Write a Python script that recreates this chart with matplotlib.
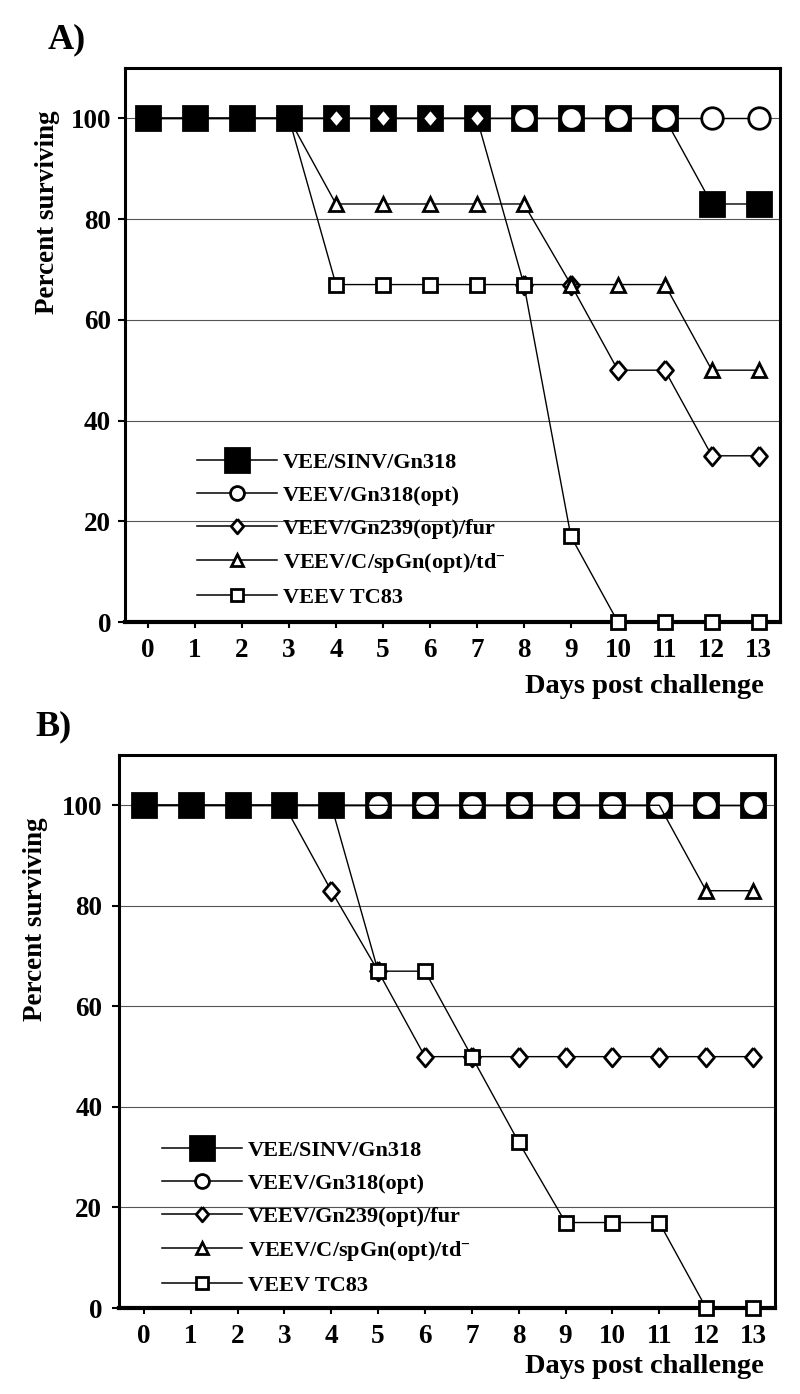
import matplotlib
matplotlib.use("Agg")
from matplotlib import pyplot as plt
from matplotlib.lines import Line2D

plt.rcParams["font.family"] = ["Liberation Serif", "DejaVu Serif"]
plt.rcParams["font.weight"] = "bold"
plt.rcParams["mathtext.fontset"] = "custom"
plt.rcParams["mathtext.rm"] = "Liberation Serif:bold"
plt.rcParams["mathtext.it"] = "Liberation Serif:bold"
plt.rcParams["mathtext.bf"] = "Liberation Serif:bold"

days = [0, 1, 2, 3, 4, 5, 6, 7, 8, 9, 10, 11, 12, 13]
day_ticks = [0, 1, 2, 3, 4, 5, 6, 7, 8, 9, 10, 11, 12, 13]
pct_ticks = [0, 20, 40, 60, 80, 100]

series_names = [
    "VEE/SINV/Gn318",
    "VEEV/Gn318(opt)",
    "VEEV/Gn239(opt)/fur",
    r"VEEV/C/spGn(opt)/td$^{-}$",
    "VEEV TC83",
]

# panel A
a_sinv_gn318 = [100, 100, 100, 100, 100, 100, 100, 100, 100, 100, 100, 100, 83, 83]
a_gn318_opt = [100, 100, 100, 100, 100, 100, 100, 100, 100, 100, 100, 100, 100, 100]
a_gn239_fur = [100, 100, 100, 100, 100, 100, 100, 100, 67, 67, 50, 50, 33, 33]
a_spgn_td = [100, 100, 100, 100, 83, 83, 83, 83, 83, 67, 67, 67, 50, 50]
a_tc83 = [100, 100, 100, 100, 67, 67, 67, 67, 67, 17, 0, 0, 0, 0]

# panel B
b_sinv_gn318 = [100, 100, 100, 100, 100, 100, 100, 100, 100, 100, 100, 100, 100, 100]
b_gn318_opt = [100, 100, 100, 100, 100, 100, 100, 100, 100, 100, 100, 100, 100, 100]
b_gn239_fur = [100, 100, 100, 100, 83, 67, 50, 50, 50, 50, 50, 50, 50, 50]
b_spgn_td = [100, 100, 100, 100, 100, 100, 100, 100, 100, 100, 100, 100, 83, 83]
b_tc83 = [100, 100, 100, 100, 100, 67, 67, 50, 33, 17, 17, 17, 0, 0]

W, H = 800, 1394
DIAMOND = [(0, 1), (0.85, 0), (0, -1), (-0.85, 0), (0, 1)]

# marker, plot size, legend size, face colour
styles = [
    ("s", 17.3, 17.3, "black"),
    ("o", 15.5, 10.0, "white"),
    (DIAMOND, 13.5, 10.5, "white"),
    ("^", 9.5, 8.0, "white"),
    ("s", 9.6, 9.0, "white"),
]


def fy(y_px):
    return 1 - y_px / H


def draw_panel(fig, rect, series, marker_from, xlim, label_xy, legend_xy,
               tick_pad):
    ax = fig.add_axes(rect)
    for values, style, first in zip(series, styles, marker_from):
        marker, size, _, face = style
        ax.plot(days, values, color="black", lw=1.0, marker=marker,
                markersize=size, markerfacecolor=face, markeredgecolor="black",
                markeredgewidth=2.0, markevery=slice(first, None),
                clip_on=False, zorder=4)

    ax.set_xlim(*xlim)
    ax.set_ylim(0, 110)
    ax.set_xticks(day_ticks)
    ax.set_yticks(pct_ticks)
    ax.tick_params(axis="x", direction="out", length=4.5, width=1.5, pad=7,
                   labelsize=19.5)
    ax.tick_params(axis="y", direction="out", length=5, width=1.5,
                   pad=tick_pad, labelsize=19.5)
    ax.yaxis.grid(True, color="#555555", lw=0.8)
    ax.set_axisbelow(True)
    for side in ["left", "right", "top"]:
        ax.spines[side].set_linewidth(2.2)
    ax.spines["bottom"].set_linewidth(3.0)

    ax.set_ylabel("Percent surviving", fontsize=19.5, fontweight="bold",
                  va="center")
    ax.yaxis.set_label_coords(*label_xy)

    handles = []
    for style in styles:
        marker, _, size, face = style
        handles.append(Line2D([], [], color="black", lw=1.1, marker=marker,
                              markersize=size, markerfacecolor=face,
                              markeredgecolor="black", markeredgewidth=2.0))
    ax.legend(handles, series_names, loc="center left",
              bbox_to_anchor=(legend_xy[0] / W, fy(legend_xy[1])),
              bbox_transform=fig.transFigure, frameon=False, borderpad=0,
              borderaxespad=0, handlelength=3.6, handletextpad=0.25,
              labelspacing=0.55, numpoints=1,
              prop={"size": 16, "weight": "bold"})
    return ax


fig = plt.figure(figsize=(W / 100, H / 100), dpi=100)

draw_panel(fig, [125 / W, fy(622), 655 / W, 554 / H],
           [a_sinv_gn318, a_gn318_opt, a_gn239_fur, a_spgn_td, a_tc83],
           [0, 8, 4, 4, 4], (-0.49, 13.45), (-0.118, 0.74), (197, 530), 5)
draw_panel(fig, [119 / W, fy(1308), 656 / W, 553 / H],
           [b_sinv_gn318, b_gn318_opt, b_gn239_fur, b_spgn_td, b_tc83],
           [0, 5, 4, 12, 5], (-0.53, 13.47), (-0.127, 0.703), (162, 1218), 7)

fig.text(48 / W, fy(40), "A)", fontsize=26, fontweight="bold",
         ha="left", va="center")
fig.text(35 / W, fy(727), "B)", fontsize=26, fontweight="bold",
         ha="left", va="center")
fig.text(764 / W, fy(693), "Days post challenge", fontsize=20.5,
         fontweight="bold", ha="right", va="baseline")
fig.text(764 / W, fy(1373), "Days post challenge", fontsize=20.5,
         fontweight="bold", ha="right", va="baseline")

fig.savefig("out.png", dpi=100, facecolor="white")
